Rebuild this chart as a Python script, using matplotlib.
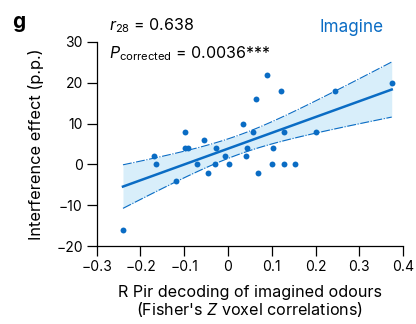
import numpy as np
import matplotlib
matplotlib.use("Agg")
import matplotlib.pyplot as plt

plt.rcParams["font.family"] = ["Inter", "DejaVu Sans"]
plt.rcParams["mathtext.fontset"] = "custom"
plt.rcParams["mathtext.rm"] = "Inter"
plt.rcParams["mathtext.it"] = "Inter:italic"

# decodificacion R Pir (Fisher Z) vs efecto de interferencia (p.p.)
decodificacion = [-0.240, -0.168, -0.164, -0.119, -0.099, -0.098, -0.091, -0.071,
                  -0.056, -0.046, -0.028, -0.029, -0.008, 0.002, 0.035, 0.040,
                  0.044, 0.058, 0.064, 0.068, 0.088, 0.101, 0.103, 0.122,
                  0.127, 0.128, 0.153, 0.200, 0.245, 0.374]
interferencia = [-16, 2, 0, -4, 8, 4, 4, 0,
                 6, -2, 4, 0, 2, 0, 10, 2,
                 4, 8, 16, -2, 22, 0, 4, 18,
                 8, 0, 0, 8, 18, 20]

x_ticks = [-0.3, -0.2, -0.1, 0, 0.1, 0.2, 0.3, 0.4]
x_tick_labels = ["\u22120.3", "\u22120.2", "\u22120.1", "0", "0.1", "0.2", "0.3", "0.4"]
y_ticks = [-20, -10, 0, 10, 20, 30]
y_tick_labels = ["\u221220", "\u221210", "0", "10", "20", "30"]

azul = "#0a6cc4"
celeste = "#d8eefa"

x = np.array(decodificacion)
y = np.array(interferencia)
n = len(x)

# ajuste lineal e intervalo de confianza del 95%
pendiente, ordenada = np.polyfit(x, y, 1)
xs = np.linspace(x.min(), x.max(), 100)
ys = pendiente * xs + ordenada
residuos = y - (pendiente * x + ordenada)
s = np.sqrt(np.sum(residuos ** 2) / (n - 2))
sxx = np.sum((x - x.mean()) ** 2)
t = 2.048  # t de Student, 28 grados de libertad
margen = t * s * np.sqrt(1 / n + (xs - x.mean()) ** 2 / sxx)

fig = plt.figure(figsize=(4.16, 3.24), dpi=100)
ax = fig.add_axes([0.2325, 0.2407, 0.7365, 0.630])

ax.fill_between(xs, ys - margen, ys + margen, color=celeste, linewidth=0)
ax.plot(xs, ys + margen, color=azul, linewidth=0.8, linestyle=(0, (8, 1.5, 1, 1.5)))
ax.plot(xs, ys - margen, color=azul, linewidth=0.8, linestyle=(0, (8, 1.5, 1, 1.5)))
ax.plot(xs, ys, color=azul, linewidth=1.8)
ax.scatter(x, y, s=18, color=azul, zorder=3, linewidths=0)

ax.set_xlim(-0.3, 0.4)
ax.set_ylim(-20, 30)
ax.set_xticks(x_ticks)
ax.set_xticklabels(x_tick_labels)
ax.set_yticks(y_ticks)
ax.set_yticklabels(y_tick_labels)
ax.spines["top"].set_visible(False)
ax.spines["right"].set_visible(False)
for lado in ["left", "bottom"]:
    ax.spines[lado].set_linewidth(0.9)
ax.tick_params(labelsize=10, length=7, width=0.9, pad=3)

ax.set_ylabel("Interference effect (p.p.)", fontsize=11.8)
ax.yaxis.set_label_coords(-0.172, 0.5)
ax.set_xlabel("R Pir decoding of imagined odours\n(Fisher's $\\it{Z}$ voxel correlations)",
              fontsize=11.6, linespacing=1.0, labelpad=8)

fig.text(0.029, 0.914, "g", fontsize=15, fontweight="bold", va="baseline")
fig.text(0.263, 0.905, "$r_{28}$ = 0.638", fontsize=11.5, va="baseline")
fig.text(0.263, 0.820, "$P_{\\mathrm{corrected}}$ = 0.0036***", fontsize=11.5, va="baseline")
fig.text(0.921, 0.902, "Imagine", fontsize=12.3, color=azul, ha="right", va="baseline")

fig.savefig("out.png", dpi=100)
